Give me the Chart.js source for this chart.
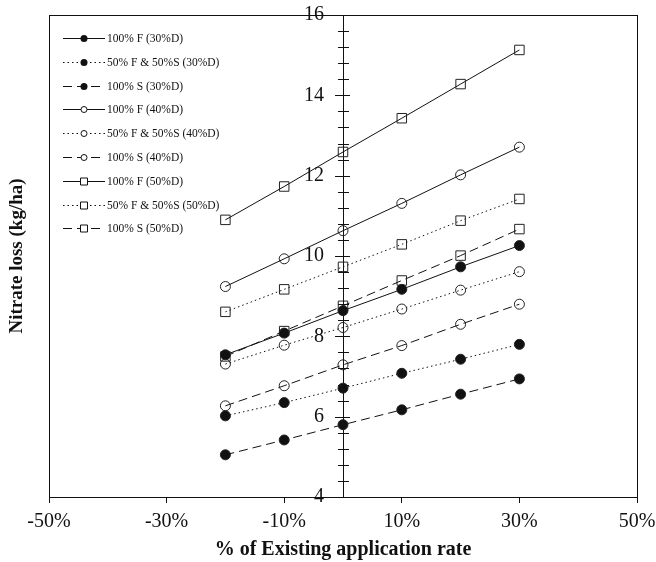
<!DOCTYPE html>
<html>
<head>
<meta charset="utf-8">
<script src="https://cdn.jsdelivr.net/npm/chart.js@4"></script>
<style>
  html, body { margin: 0; padding: 0; background: #fff; }
</style>
</head>
<body>
<canvas id="myChart" width="656" height="562"></canvas>
<script>
// x positions (% of existing application rate) and axis labels
const rates = [-20, -10, 0, 10, 20, 30];
const xTicks = [-50, -30, -10, 10, 30, 50];

// nitrate loss (kg/ha)
const f30 = [7.54, 8.08, 8.64, 9.17, 9.73, 10.26];
const fs30 = [6.02, 6.35, 6.71, 7.08, 7.43, 7.80];
const s30 = [5.05, 5.42, 5.80, 6.17, 6.56, 6.94];
const f40 = [9.24, 9.93, 10.63, 11.31, 12.02, 12.71];
const fs40 = [7.31, 7.78, 8.22, 8.68, 9.15, 9.61];
const s40 = [6.27, 6.77, 7.29, 7.77, 8.30, 8.80];
const f50 = [10.90, 11.73, 12.59, 13.43, 14.28, 15.13];
const fs50 = [8.61, 9.17, 9.73, 10.29, 10.88, 11.42];
const s50 = [7.50, 8.13, 8.76, 9.39, 10.01, 10.67];

const SERIF = '"Liberation Serif", "Times New Roman", serif';
const INK = '#111';
const SOLID = [];
const DOTTED = [1.5, 3];
const DASHED = [9, 5];

function makeSet(label, values, dash, style, filled) {
  return {
    label: label,
    data: values.map((v, i) => ({ x: rates[i], y: v })),
    yAxisID: 'y',
    borderColor: INK,
    borderWidth: 1,
    borderDash: dash,
    pointStyle: style,
    pointRadius: style === 'rect' ? 6.7 : 5,
    pointBorderWidth: 1,
    pointBorderColor: '#222',
    pointBackgroundColor: filled ? '#111' : 'rgba(0,0,0,0)',
    fill: false,
    tension: 0,
    clip: false,
    _filled: filled,
  };
}

const isMajor = v => Math.abs(v / 2 - Math.round(v / 2)) < 1e-6;

// frame, crossing y ticks and the legend inside the plot
const decorPlugin = {
  id: 'decor',
  afterDraw(chart) {
    const ctx = chart.ctx;
    const a = chart.chartArea;
    const ys = chart.scales.y;
    const axisX = chart.scales.x.getPixelForValue(0);
    ctx.save();
    ctx.strokeStyle = INK;
    ctx.lineWidth = 1;
    ctx.strokeRect(Math.round(a.left) + 0.5, Math.round(a.top) + 0.5,
      Math.round(a.right - a.left), Math.round(a.bottom - a.top));

    ys.ticks.forEach(t => {
      const py = Math.round(ys.getPixelForValue(t.value)) + 0.5;
      const big = isMajor(t.value);
      ctx.beginPath();
      ctx.moveTo(axisX - (big ? 8 : 5), py);
      ctx.lineTo(axisX + (big ? 7 : 6), py);
      ctx.stroke();
    });

    ctx.font = '11.5px ' + SERIF;
    ctx.textBaseline = 'middle';
    ctx.fillStyle = INK;
    chart.data.datasets.forEach((ds, i) => {
      const y = Math.round(a.top + 23 + i * 23.8) + 0.5;
      const x0 = a.left + 14;
      ctx.setLineDash(ds.borderDash);
      ctx.beginPath();
      ctx.moveTo(x0, y);
      ctx.lineTo(x0 + 42, y);
      ctx.stroke();
      ctx.setLineDash([]);
      const cx = x0 + 21;
      ctx.beginPath();
      if (ds.pointStyle === 'rect') {
        ctx.fillStyle = '#fff';
        ctx.rect(cx - 3.5, y - 3.5, 7, 7);
        ctx.fill();
        ctx.stroke();
      } else if (ds._filled) {
        ctx.arc(cx, y, 3.5, 0, Math.PI * 2);
        ctx.fillStyle = INK;
        ctx.fill();
      } else {
        ctx.fillStyle = '#fff';
        ctx.arc(cx, y, 3, 0, Math.PI * 2);
        ctx.fill();
        ctx.stroke();
      }
      ctx.fillStyle = INK;
      ctx.fillText(ds.label, x0 + 44, y);
    });
    ctx.restore();
  }
};

const ctx = document.getElementById('myChart').getContext('2d');
const myChart = new Chart(ctx, {
  type: 'line',
  data: {
    datasets: [
      makeSet('100% F (30%D)', f30, SOLID, 'circle', true),
      makeSet('50% F & 50%S (30%D)', fs30, DOTTED, 'circle', true),
      makeSet('100% S (30%D)', s30, DASHED, 'circle', true),
      makeSet('100% F (40%D)', f40, SOLID, 'circle', false),
      makeSet('50% F & 50%S (40%D)', fs40, DOTTED, 'circle', false),
      makeSet('100% S (40%D)', s40, DASHED, 'circle', false),
      makeSet('100% F (50%D)', f50, SOLID, 'rect', false),
      makeSet('50% F & 50%S (50%D)', fs50, DOTTED, 'rect', false),
      makeSet('100% S (50%D)', s50, DASHED, 'rect', false),
    ],
  },
  options: {
    responsive: false,
    animation: false,
    devicePixelRatio: 1,
    layout: { padding: { left: 0, right: 19, top: 0, bottom: 0 } },
    plugins: {
      legend: { display: false },
      tooltip: { enabled: false },
    },
    scales: {
      x: {
        type: 'linear',
        position: 'bottom',
        min: -50,
        max: 50,
        afterBuildTicks: s => { s.ticks = xTicks.map(v => ({ value: v })); },
        afterFit: s => { s.height = 65; s.paddingRight = 0; s.paddingLeft = 0; },
        grid: { drawOnChartArea: false, drawTicks: true, tickLength: 6, tickColor: INK, color: INK },
        border: { display: true, color: INK, width: 1 },
        ticks: {
          padding: 7,
          color: INK,
          font: { family: SERIF, size: 20 },
          maxRotation: 0,
          callback: v => v + '%',
        },
        title: {
          display: true,
          text: '% of Existing application rate',
          color: INK,
          font: { family: SERIF, size: 20, weight: 'bold' },
          padding: { top: 4, bottom: 0 },
        },
      },
      y: {
        type: 'linear',
        position: { x: 0 },
        min: 4,
        max: 16,
        grid: { display: false, drawTicks: false },
        border: { display: true, color: INK, width: 1 },
        ticks: {
          stepSize: 0.4,
          autoSkip: false,
          color: INK,
          font: { family: SERIF, size: 20 },
          // trailing spaces keep the numbers clear of the centred axis line
          callback: v => (isMajor(v) ? Math.round(v) + '   \u2009' : ''),
        },
      },
      yTitle: {
        type: 'linear',
        axis: 'y',
        position: 'left',
        display: true,
        afterFit: s => { s.width = 49; },
        grid: { display: false },
        border: { display: false },
        ticks: { display: false },
        title: {
          display: true,
          text: 'Nitrate loss (kg/ha)',
          color: INK,
          font: { family: SERIF, size: 19, weight: 'bold' },
          padding: { top: 6, bottom: 4 },
        },
      },
    },
  },
  plugins: [decorPlugin],
});
</script>
</body>
</html>
